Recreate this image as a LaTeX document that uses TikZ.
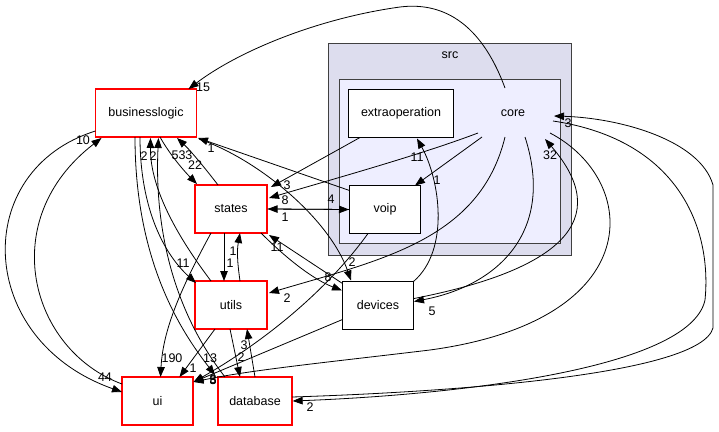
\documentclass[tikz,border=0pt]{standalone}
\usepackage{fontspec}
\setmainfont{Liberation Sans}
\usetikzlibrary{arrows.meta,calc}
\definecolor{srcfill}{HTML}{DDDDEE}
\definecolor{corefill}{HTML}{EEEEFF}
\definecolor{clborder}{HTML}{404040}
\definecolor{dirred}{HTML}{FF0000}
\tikzset{
  dir/.style={draw=black,line width=1pt,fill=white,inner sep=0pt,minimum height=48pt},
  reddir/.style={draw=dirred,line width=1.25pt,fill=white,inner sep=0pt,minimum height=48pt},
  edge/.style={line width=0.8pt,-{Triangle[length=10pt,width=7.5pt]}},
  lab/.style={inner sep=0pt,font=\fontsize{12.5}{14}\selectfont},
  every node/.style={font=\fontsize{12.5}{14}\selectfont}
}
\begin{document}
\begin{tikzpicture}[x=1pt,y=-1pt]
\useasboundingbox (0,0) rectangle (719,431);
% clusters
\draw[clborder,line width=1pt,fill=srcfill] (328.5,43.5) rectangle (571.5,255.5);
\node[lab] (srclab) at (450,55) {src};
\draw[clborder,line width=1pt,fill=corefill] (339.5,79.5) rectangle (560.5,243.5);
\node[lab] (core) at (513,113) {core};
% nodes
\node[reddir,minimum width=101pt] (bl) at (146,113) {businesslogic};
\node[reddir,minimum width=72pt] (st) at (231,209) {states};
\node[reddir,minimum width=72pt] (ut) at (231,305) {utils};
\node[reddir,minimum width=71pt] (ui) at (157.5,401) {ui};
\node[reddir,minimum width=74pt] (db) at (255,401) {database};
\node[dir,minimum width=71pt] (dv) at (378,305.5) {devices};
\node[dir,minimum width=71pt] (vo) at (385,209.5) {voip};
\node[dir,minimum width=105pt] (ex) at (401,113.5) {extraoperation};
% edges
\draw[edge] ($(core)+(-8,-25)$) .. controls (480,20) and (440,2) .. (400,7) .. controls (320,18) and (240,50) .. ($(bl)+(42.5,-24)$);
\draw[edge] ($(ui)+(-35.5,-17)$) .. controls (30,350) and (-5,220) .. ($(bl)+(-44.5,25)$);
\draw[edge] ($(bl)+(-50.5,18)$) .. controls (-30,170) and (-25,340) .. ($(ui)+(-35.5,-9)$);
\draw[edge] ($(bl)+(14,24)$) .. controls (170,155) and (185,172) .. ($(st)+(-34,-25)$);
\draw[edge] ($(st)+(-13,-24)$) .. controls (205,168) and (190,150) .. ($(bl)+(31,25)$);
\draw[edge] ($(vo)+(-35.5,-19)$) -- ($(bl)+(52,25)$);
\draw[edge] ($(bl)+(53,26)$) .. controls (260,160) and (330,220) .. ($(dv)+(-27,-25)$);
\draw[edge] ($(ex)+(-41,24)$) -- ($(st)+(40,-22)$);
\draw[edge] ($(core)+(-35,20)$) .. controls (420,155) and (330,180) .. ($(st)+(38,-11)$);
\draw[edge] (st.east) -- (vo.west);
\draw[edge] (vo.west) -- (st.east);
\draw[edge] ($(dv)+(-35.5,-22)$) -- ($(st)+(38,26)$);
\draw[edge] ($(st)+(30,24)$) .. controls (290,262) and (315,280) .. ($(dv)+(-36,-15)$);
\draw[edge] ($(st)+(-7,24)$) -- ($(ut)+(-7,-24)$);
\draw[edge] ($(ut)+(9,-24)$) .. controls (237,260) and (237,250) .. ($(st)+(9,24)$);
\draw[edge] ($(bl)+(-6,24)$) .. controls (140,210) and (165,255) .. ($(ut)+(-35,-22)$);
\draw[edge] ($(ut)+(-20,-24)$) .. controls (180,240) and (150,190) .. ($(bl)+(4.5,25)$);
\draw[edge] ($(db)+(-30,-24)$) .. controls (165,300) and (155,210) .. ($(bl)+(12.5,25)$);
\draw[edge] ($(bl)+(-11,24)$) .. controls (135,260) and (180,330) .. ($(db)+(-40,-26)$);
\draw[edge] ($(st)+(-20,24)$) .. controls (180,290) and (163,330) .. ($(ui)+(3,-24)$);
\draw[edge] ($(ut)+(-16,24)$) -- ($(ui)+(22,-24)$);
\draw[edge] ($(ut)+(-1,24)$) -- ($(db)+(-15,-24)$);
\draw[edge] ($(db)+(0,-24)$) -- ($(ut)+(16,24)$);
\draw[edge] ($(dv)+(-35.5,14)$) -- ($(ui)+(36,-19)$);
\draw[edge] ($(vo)+(-17,24)$) .. controls (320,300) and (250,350) .. ($(ui)+(36,-19)$);
\draw[edge] ($(core)+(37,20)$) .. controls (640,180) and (650,320) .. (430,350) .. controls (330,362) and (250,370) .. ($(ui)+(36,-19)$);
\draw[edge] ($(dv)+(35.5,-24)$) .. controls (450,250) and (440,180) .. ($(ex)+(16,25)$);
\draw[edge] ($(core)+(-31,24)$) -- ($(vo)+(30,-24)$);
\draw[edge] ($(core)+(-8,24)$) .. controls (480,240) and (380,260) .. ($(ut)+(38,-12)$);
\draw[edge] ($(core)+(12,24)$) .. controls (555,230) and (500,285) .. ($(dv)+(36,-4)$);
\draw[edge] ($(dv)+(36,-7)$) .. controls (560,270) and (615,220) .. ($(core)+(32,26)$);
\draw[edge] ($(db)+(37,-4)$) .. controls (450,392) and (700,375) .. (713,328) -- (713,185) .. controls (700,140) and (620,118) .. ($(core)+(41,3)$);
\draw[edge] ($(core)+(40,8)$) .. controls (680,140) and (712,230) .. (705,300) .. controls (690,370) and (450,395) .. (db.east);
% labels
\node[lab] (l1) at (203,87) {15};
\node[lab] (l2) at (83,140) {10};
\node[lab] (l3) at (105,377) {44};
\node[lab] (l4) at (144,156) {2};
\node[lab] (l5) at (153,156) {2};
\node[lab] (l6) at (182,155) {533};
\node[lab] (l7) at (195,165) {22};
\node[lab] (l8) at (211,148) {1};
\node[lab] (l9) at (287,185) {3};
\node[lab] (l10) at (285,200) {8};
\node[lab] (l11) at (285,217) {1};
\node[lab] (l12) at (331,199) {4};
\node[lab] (l13) at (277,247) {11};
\node[lab] (l14) at (328,277) {8};
\node[lab] (l15) at (352,262) {2};
\node[lab] (l16) at (233,251) {1};
\node[lab] (l17) at (230,263) {1};
\node[lab] (l18) at (183,263) {11};
\node[lab] (l19) at (287,298) {2};
\node[lab] (l20) at (172,358) {190};
\node[lab] (l21) at (193,368) {1};
\node[lab] (l22) at (210,358) {13};
\node[lab] (l23) at (244,345) {3};
\node[lab] (l24) at (241,357) {2};
\node[lab] (l25) at (213,380) {5};
\node[lab] (l26) at (213,380) {8};
\node[lab] (l27) at (213,379) {3};
\node[lab] (l28) at (310,407) {2};
\node[lab] (l29) at (432,311) {5};
\node[lab] (l30) at (550,155) {32};
\node[lab] (l31) at (568,123) {3};
\node[lab] (l32) at (437,180) {1};
\node[lab] (l33) at (417,157) {11};
\end{tikzpicture}
\end{document}
